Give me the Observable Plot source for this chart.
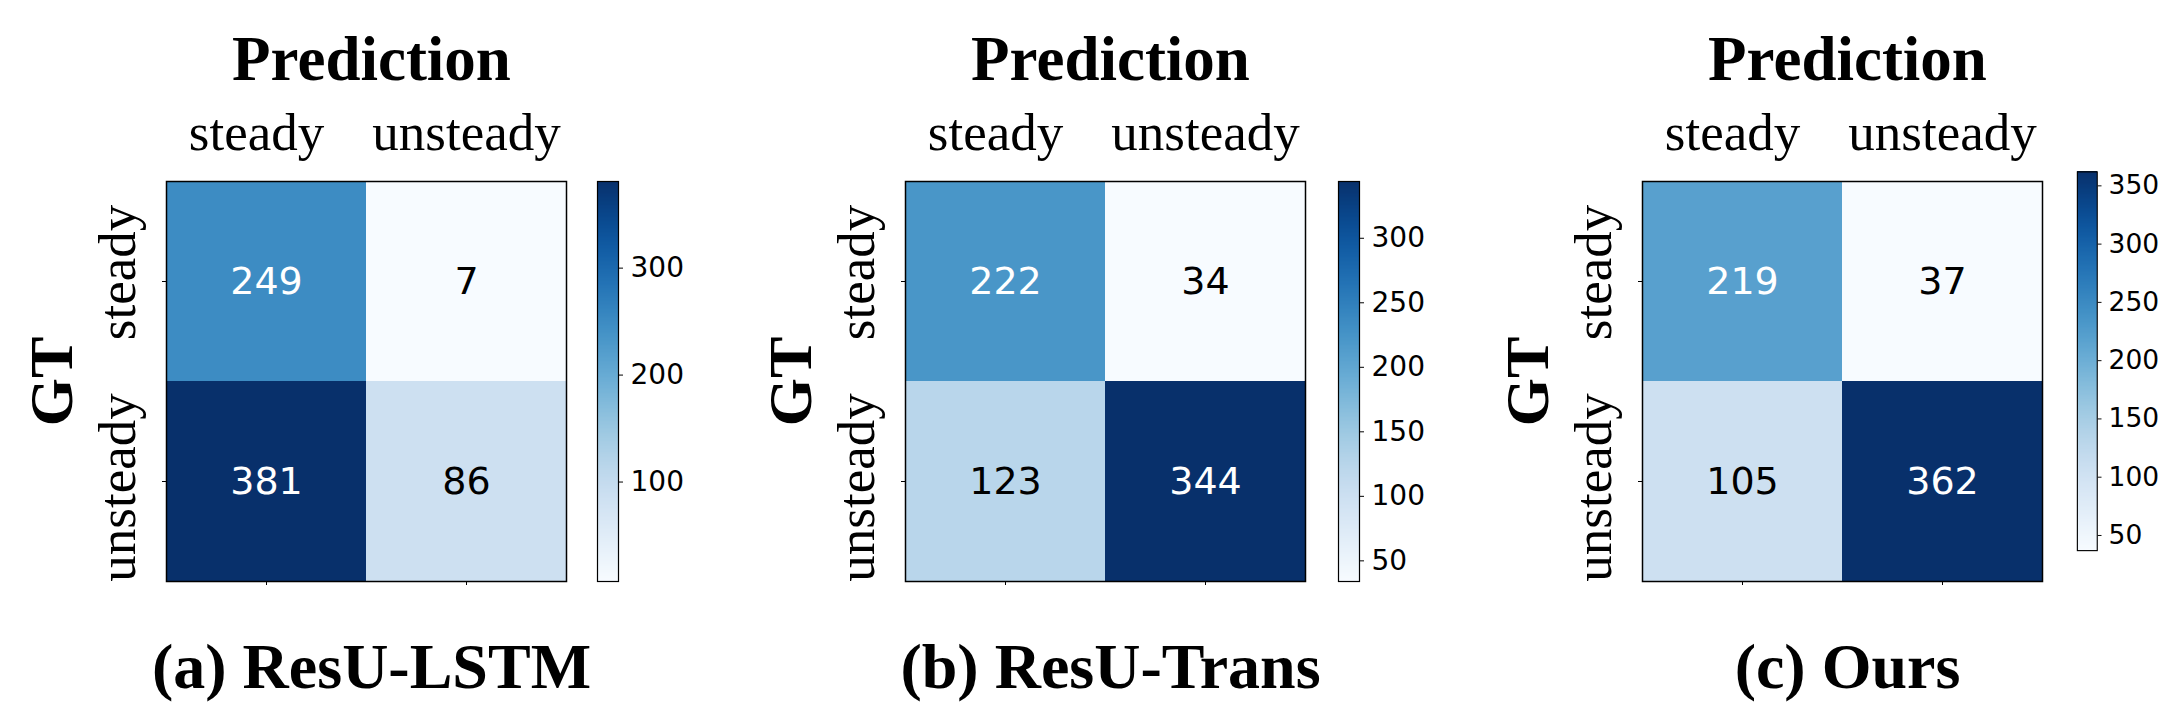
<!DOCTYPE html>
<html>
<head>
<meta charset="utf-8">
<script src="https://cdn.jsdelivr.net/npm/d3@7"></script>
<script src="https://cdn.jsdelivr.net/npm/@observablehq/plot@0.6"></script>
<style>
  html, body { margin: 0; padding: 0; background: #fff; }
  #root { position: relative; width: 2182px; height: 728px; overflow: hidden; background: #fff; }
  #root > div { position: absolute; top: 0; }
  svg { overflow: visible; }
</style>
</head>
<body>
<div id="root"></div>
<script>
// ---- data ----
const classes = ["steady", "unsteady"];
const captions = ["(a) ResU-LSTM", "(b) ResU-Trans", "(c) Ours"];
// row-major: [GT steady->pred steady, GT steady->pred unsteady, GT unsteady->pred steady, GT unsteady->pred unsteady]
const lstmValues = [249, 7, 381, 86];
const transValues = [222, 34, 123, 344];
const oursValues = [219, 37, 105, 362];
const lstmTicks = [100, 200, 300];
const transTicks = [50, 100, 150, 200, 250, 300];
const oursTicks = [50, 100, 150, 200, 250, 300, 350];

const panels = [
  {caption: captions[0], values: lstmValues, ticks: lstmTicks, left: 0, cbLeft: 597},
  {caption: captions[1], values: transValues, ticks: transTicks, left: 739, cbLeft: 1338},
  {caption: captions[2], values: oursValues, ticks: oursTicks, left: 1476, cbLeft: 2077}
];

const serif = "'Liberation Serif', 'Times New Roman', serif";
const sans = "'DejaVu Sans', sans-serif";
const H = 728, MT = 181, MB = 147, ML = 166, SIDE = 400;

const root = document.getElementById("root");

for (const p of panels) {
  const cells = [];
  classes.forEach((gt, i) => classes.forEach((pred, j) => cells.push({gt, pred, value: p.values[i * 2 + j]})));
  const vmin = d3.min(p.values), vmax = d3.max(p.values);
  const thresh = (vmin + vmax) / 2;
  const color = {type: "linear", scheme: "blues", domain: [vmin, vmax]};
  const labelStyle = {fontSize: 53, fontFamily: serif, fill: "black"};

  const heat = Plot.plot({
    width: ML + SIDE + 14,
    height: H,
    marginTop: MT,
    marginBottom: MB,
    marginLeft: ML,
    marginRight: 14,
    style: {background: "transparent", overflow: "visible"},
    x: {type: "band", domain: classes, padding: 0, label: null},
    y: {type: "band", domain: classes, padding: 0, label: null},
    color,
    marks: [
      Plot.cell(cells, {x: "pred", y: "gt", fill: "value", inset: 0}),
      Plot.text(cells, {
        x: "pred", y: "gt", text: d => String(d.value),
        fill: d => d.value > thresh ? "white" : "black",
        fontSize: 38, fontFamily: sans
      }),
      Plot.frame({stroke: "black", strokeWidth: 1.5}),
      Plot.axisX({anchor: "bottom", tickSize: 4, tickFormat: () => "", label: null}),
      Plot.axisY({anchor: "left", tickSize: 4, tickFormat: () => "", label: null}),
      // top (prediction) tick labels
      Plot.text([classes[0]], {x: d => d, frameAnchor: "top", dy: -32, dx: -10, lineAnchor: "bottom", ...labelStyle}),
      Plot.text([classes[1]], {x: d => d, frameAnchor: "top", dy: -32, dx: 0, lineAnchor: "bottom", ...labelStyle}),
      // left (GT) tick labels, rotated
      Plot.text([classes[0]], {y: d => d, frameAnchor: "left", rotate: -90, dx: -32, dy: -9, textAnchor: "middle", lineAnchor: "bottom", ...labelStyle}),
      Plot.text([classes[1]], {y: d => d, frameAnchor: "left", rotate: -90, dx: -32, dy: 6, textAnchor: "middle", lineAnchor: "bottom", ...labelStyle}),
      Plot.text(["Prediction"], {
        frameAnchor: "top", dy: -102, dx: 5, lineAnchor: "bottom",
        fontSize: 63, fontWeight: "bold", fontFamily: serif, fill: "black"
      }),
      Plot.text(["GT"], {
        frameAnchor: "left", rotate: -90, dx: -95, lineAnchor: "bottom", textAnchor: "middle",
        fontSize: 62, fontWeight: "bold", fontFamily: serif, fill: "black"
      }),
      Plot.text([p.caption], {
        frameAnchor: "bottom", dy: 106, dx: 5, lineAnchor: "bottom",
        fontSize: 64, fontWeight: "bold", fontFamily: serif, fill: "black"
      })
    ]
  });
  const hd = document.createElement("div");
  hd.style.left = p.left + "px";
  hd.appendChild(heat);
  root.appendChild(hd);

  // colorbar
  const n = 300;
  const step = (vmax - vmin) / n;
  const slices = d3.range(n).map(i => vmin + i * step);
  const cbML = 2, cbW = 21;
  const cb = Plot.plot({
    width: cbML + cbW + 90,
    height: H,
    marginTop: MT,
    marginBottom: MB,
    marginLeft: cbML,
    marginRight: 90,
    style: {background: "transparent", overflow: "visible"},
    x: {domain: [0, 1], axis: null},
    y: {domain: [vmin, vmax], label: null},
    color,
    marks: [
      Plot.rect(slices, {
        x1: 0, x2: 1, y1: d => d, y2: d => Math.min(vmax, d + step * 1.6),
        fill: d => d + step / 2, shapeRendering: "crispEdges"
      }),
      Plot.frame({stroke: "black", strokeWidth: 1.2}),
      Plot.axisY({
        anchor: "right", ticks: p.ticks, tickSize: 4, tickPadding: 8,
        fontSize: 28, fontFamily: sans, label: null, fill: "black"
      })
    ]
  });
  const cd = document.createElement("div");
  cd.style.left = (p.cbLeft - cbML) + "px";
  cd.appendChild(cb);
  root.appendChild(cd);
}
</script>
</body>
</html>
